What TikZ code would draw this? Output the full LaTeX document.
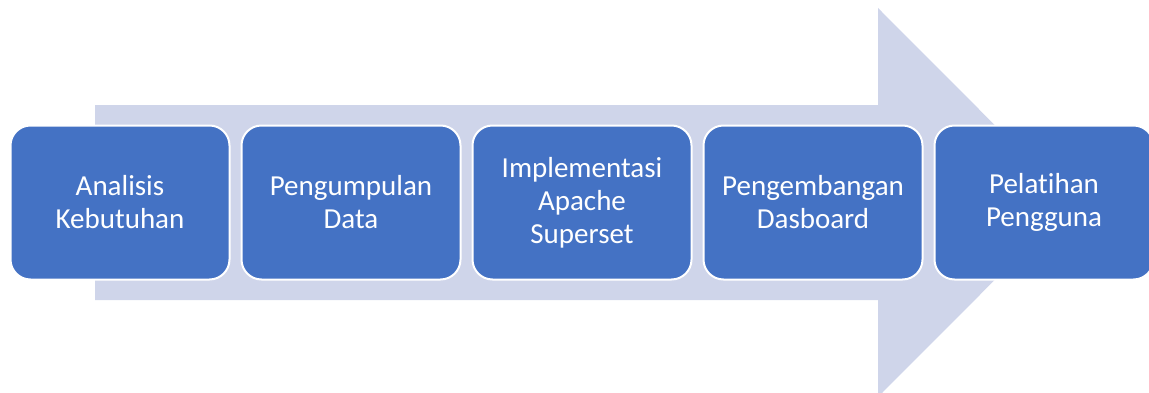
\documentclass[tikz,border=0pt]{standalone}
\usepackage{fontspec}
\setmainfont{Carlito}[Ligatures=NoCommon]
\usepackage{xcolor}
\usetikzlibrary{positioning}
\definecolor{boxblue}{HTML}{4472C4}
\definecolor{arrowgrey}{HTML}{CFD5EA}

\begin{document}
\begin{tikzpicture}[x=1pt, y=1pt]
            % Block styles
            \tikzstyle{stage} = [rectangle, rounded corners=20pt, draw=white, line width=2pt, fill=boxblue, text=white, text width=205pt, align=center, minimum width=219pt, minimum height=154pt, font=\fontsize{29}{33}\selectfont]
            \useasboundingbox (0,0) rectangle (1149,392);
            % Background arrow
            \begin{scope}
                \clip (0,0) rectangle (1149,392);
                \fill[arrowgrey] (95,287) -- (878,287) -- (878,384) -- (1072,189.5) -- (878,-5) -- (878,92) -- (95,92) -- cycle;
            \end{scope}
            % Stages
            \node[stage] (analisis) at (120,189.5) {Analisis\\Kebutuhan};
            \node[stage, right=10pt of analisis] (data) {Pengumpulan\\Data};
            \node[stage, right=10pt of data] (superset) {Implementasi\\Apache\\Superset};
            \node[stage, right=10pt of superset] (dasboard) {Pengembangan\\Dasboard};
            \node[stage, right=10pt of dasboard] (pelatihan) {Pelatihan\\Pengguna};
        \end{tikzpicture}
\end{document}
